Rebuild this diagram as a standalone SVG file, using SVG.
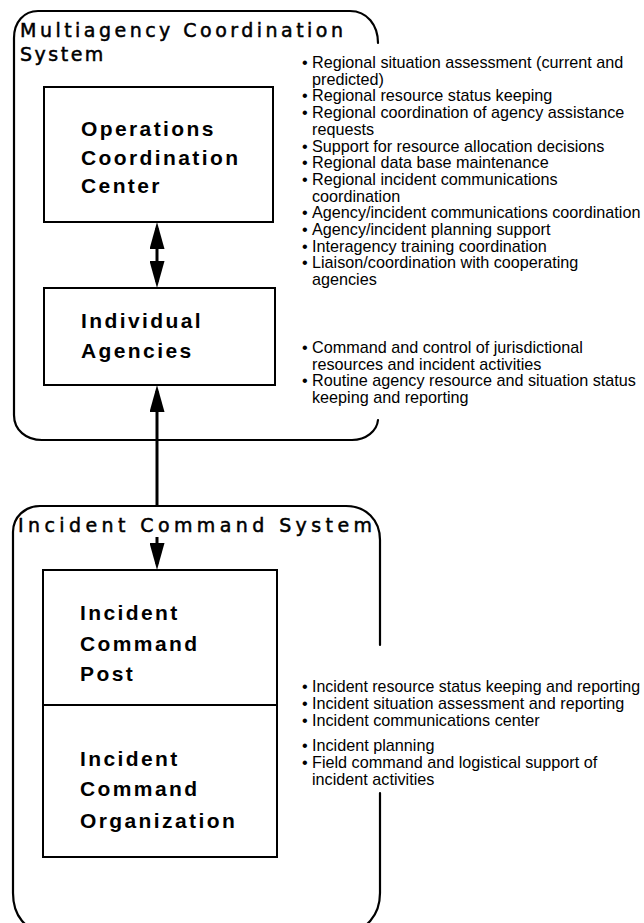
<svg xmlns="http://www.w3.org/2000/svg" width="644" height="923" viewBox="0 0 644 923">
  <style>
    .frame { fill: none; stroke: #000; stroke-width: 2.2; stroke-linecap: round; }
    .box { fill: #fff; stroke: #000; stroke-width: 2; }
    .link { fill: none; stroke: #000; stroke-width: 3; }
    .title { font-family: "DejaVu Sans", "Liberation Sans", sans-serif; font-size: 19px; fill: #000; stroke: #000; stroke-width: 0.5; }
    .label { font-family: "Liberation Sans", Arial, sans-serif; font-weight: bold; font-size: 21px; letter-spacing: 2.4px; fill: #000; }
    .item { font-family: "Liberation Sans", Arial, sans-serif; font-size: 16.2px; fill: #000; }
  </style>
  <defs>
    <marker id="head" viewBox="0 0 27 15" refX="21" refY="7.5" markerWidth="27" markerHeight="15" markerUnits="userSpaceOnUse" orient="auto-start-reverse">
      <path d="M0,0 L27,7.5 L0,15 Z" fill="#000"/>
    </marker>
  </defs>
  <rect width="644" height="923" fill="#fff"/>

  <!-- Multiagency Coordination System frame -->
  <g id="macs">
    <path class="frame" d="M378,43 C378,25 367,11 350,11 L38,11 C24,11 14,22 14,38 L14,415 C14,430 26,440 42,440 L352,440 C366,440 377,431 378,420"/>
    <text class="title" x="20" y="37" textLength="323" lengthAdjust="spacing">Multiagency Coordination</text>
    <text class="title" x="20" y="61" letter-spacing="2.5">System</text>
  </g>

  <g id="occ">
    <rect class="box" x="44" y="87" width="229" height="135"/>
    <text class="label" x="81" y="136">Operations</text>
    <text class="label" x="81" y="165">Coordination</text>
    <text class="label" x="81" y="193">Center</text>
  </g>

  <g id="agencies">
    <rect class="box" x="44" y="288" width="231" height="97"/>
    <text class="label" x="81" y="328">Individual</text>
    <text class="label" x="81" y="358">Agencies</text>
  </g>

  <!-- Incident Command System frame -->
  <g id="ics">
    <path class="frame" d="M380,645 L380,540 C380,520 366,506 346,506 L40,506 C25,506 13,517 13,532 L13,893 C13,915 25,932 48,932 L345,932 C366,932 380,915 380,893 L380,793"/>
    <text class="title" x="18" y="532" textLength="354" lengthAdjust="spacing">Incident Command System</text>
  </g>

  <g id="icp">
    <rect class="box" x="43" y="570" width="234" height="135"/>
    <text class="label" x="80" y="620">Incident</text>
    <text class="label" x="80" y="651">Command</text>
    <text class="label" x="80" y="681">Post</text>
  </g>

  <g id="ico">
    <rect class="box" x="43" y="705" width="234" height="152"/>
    <text class="label" x="80" y="766">Incident</text>
    <text class="label" x="80" y="796">Command</text>
    <text class="label" x="80" y="828">Organization</text>
  </g>

  <!-- connectors -->
  <g id="connectors">
    <line class="link" x1="157" y1="228" x2="157" y2="282" marker-start="url(#head)" marker-end="url(#head)"/>
    <line class="link" x1="157" y1="506" x2="157" y2="391" marker-end="url(#head)"/>
    <line class="link" x1="157" y1="537" x2="157" y2="564" marker-end="url(#head)"/>
  </g>

  <!-- function lists -->
  <g id="occ-functions" class="item">
    <text x="302" y="68">•</text><text x="312" y="68">Regional situation assessment (current and</text>
    <text x="312" y="84.7">predicted)</text>
    <text x="302" y="101.4">•</text><text x="312" y="101.4">Regional resource status keeping</text>
    <text x="302" y="118.1">•</text><text x="312" y="118.1">Regional coordination of agency assistance</text>
    <text x="312" y="134.8">requests</text>
    <text x="302" y="151.5">•</text><text x="312" y="151.5">Support for resource allocation decisions</text>
    <text x="302" y="168.2">•</text><text x="312" y="168.2">Regional data base maintenance</text>
    <text x="302" y="184.9">•</text><text x="312" y="184.9">Regional incident communications</text>
    <text x="312" y="201.6">coordination</text>
    <text x="302" y="218.3">•</text><text x="312" y="218.3">Agency/incident communications coordination</text>
    <text x="302" y="235">•</text><text x="312" y="235">Agency/incident planning support</text>
    <text x="302" y="251.7">•</text><text x="312" y="251.7">Interagency training coordination</text>
    <text x="302" y="268.4">•</text><text x="312" y="268.4">Liaison/coordination with cooperating</text>
    <text x="312" y="285.1">agencies</text>
  </g>

  <g id="agency-functions" class="item">
    <text x="302" y="353">•</text><text x="312" y="353">Command and control of jurisdictional</text>
    <text x="312" y="369.7">resources and incident activities</text>
    <text x="302" y="386.4">•</text><text x="312" y="386.4">Routine agency resource and situation status</text>
    <text x="312" y="403.1">keeping and reporting</text>
  </g>

  <g id="icp-functions" class="item">
    <text x="302" y="692">•</text><text x="312" y="692" textLength="328" lengthAdjust="spacingAndGlyphs">Incident resource status keeping and reporting</text>
    <text x="302" y="709">•</text><text x="312" y="709">Incident situation assessment and reporting</text>
    <text x="302" y="726">•</text><text x="312" y="726">Incident communications center</text>
  </g>

  <g id="ico-functions" class="item">
    <text x="302" y="751">•</text><text x="312" y="751">Incident planning</text>
    <text x="302" y="768">•</text><text x="312" y="768">Field command and logistical support of</text>
    <text x="312" y="785">incident activities</text>
  </g>
</svg>
